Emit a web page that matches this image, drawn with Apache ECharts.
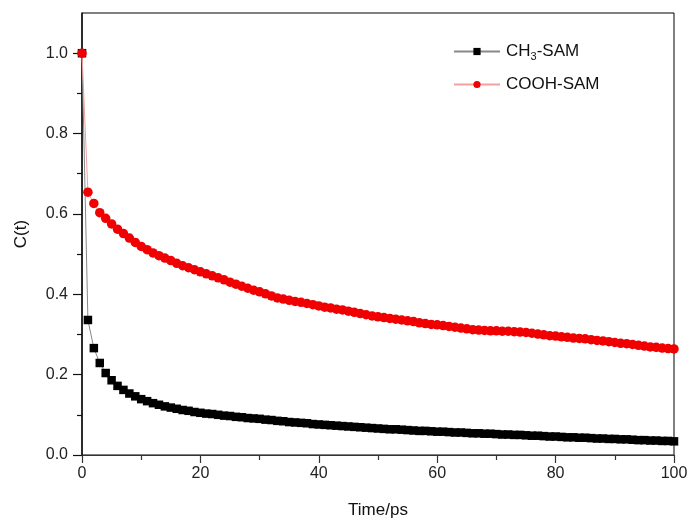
<!DOCTYPE html>
<html>
<head>
<meta charset="utf-8">
<script src="https://cdn.jsdelivr.net/npm/echarts@6/dist/echarts.min.js"></script>
<style>html,body{margin:0;padding:0;background:#fff}#c{width:687px;height:520px}</style>
</head>
<body>
<div id="c"></div>
<script>
var seriesNames = ['CH3-SAM', 'COOH-SAM'];
var xTicks = [0, 20, 40, 60, 80, 100];
var yTicks = [0.0, 0.2, 0.4, 0.6, 0.8, 1.0];
var yMinorTicks = [0.1, 0.3, 0.5, 0.7, 0.9];
var ch3 = [1.000,0.336,0.266,0.229,0.204,0.186,0.172,0.162,0.153,0.146,
0.139,0.134,0.129,0.125,0.121,0.118,0.115,0.112,0.110,0.107,
0.105,0.103,0.102,0.100,0.098,0.097,0.095,0.094,0.092,0.091,
0.090,0.088,0.087,0.085,0.084,0.082,0.081,0.080,0.079,0.077,
0.076,0.075,0.074,0.073,0.072,0.071,0.070,0.069,0.068,0.067,
0.066,0.065,0.064,0.064,0.063,0.062,0.061,0.060,0.060,0.059,
0.058,0.058,0.057,0.056,0.056,0.055,0.054,0.054,0.053,0.053,
0.052,0.051,0.051,0.050,0.050,0.049,0.048,0.048,0.047,0.046,
0.046,0.045,0.044,0.044,0.043,0.043,0.042,0.041,0.041,0.040,
0.040,0.039,0.039,0.038,0.037,0.037,0.036,0.036,0.035,0.035,0.034];
var cooh = [1.000,0.654,0.626,0.603,0.589,0.575,0.562,0.551,0.540,0.529,
0.519,0.511,0.503,0.496,0.490,0.484,0.477,0.471,0.466,0.461,
0.456,0.451,0.446,0.441,0.436,0.430,0.425,0.420,0.415,0.410,
0.406,0.401,0.396,0.391,0.388,0.385,0.382,0.380,0.377,0.374,
0.371,0.368,0.366,0.363,0.361,0.358,0.355,0.352,0.349,0.346,
0.344,0.342,0.340,0.338,0.336,0.334,0.332,0.329,0.327,0.325,
0.324,0.322,0.320,0.318,0.316,0.314,0.312,0.311,0.310,0.309,
0.309,0.308,0.308,0.307,0.306,0.305,0.303,0.301,0.299,0.297,
0.296,0.294,0.293,0.291,0.290,0.289,0.287,0.285,0.284,0.282,
0.280,0.278,0.277,0.275,0.273,0.271,0.269,0.268,0.266,0.265,0.264];

function pairs(arr){ return arr.map(function(v,i){ return [i, v]; }); }

var chart = echarts.init(document.getElementById('c'), null, {renderer:'canvas'});
var font = 'Liberation Sans, Arial, sans-serif';
chart.setOption({
  animation: false,
  backgroundColor: '#fff',
  grid: {left: 82, right: 13, top: 13, bottom: 65, show: true, borderColor: '#000', borderWidth: 1,
    containLabel: false, outerBoundsMode: 'none'},
  legend: {
    orient: 'vertical', left: 448, top: 38, itemWidth: 46, itemHeight: 9, itemGap: 14,
    data: seriesNames,
    textStyle: {fontFamily: font, fontSize: 17, color: '#111', padding: [0,0,0,1],
      rich: {sub: {fontFamily: font, fontSize: 11, color: '#111', padding: [10,0,0,0]}}},
    formatter: function(n){ return n === 'CH3-SAM' ? 'CH{sub|3}-SAM' : n; }
  },
  xAxis: {
    type: 'value', min: 0, max: 100, interval: 20,
    name: 'Time/ps', nameLocation: 'middle', nameGap: 47,
    nameTextStyle: {fontFamily: font, fontSize: 17, color: '#111'},
    axisLine: {lineStyle: {color: '#333', width: 1.2}},
    axisTick: {show: true, inside: false, length: 8, lineStyle: {color: '#333', width: 1.2}},
    minorTick: {show: true, splitNumber: 2, length: 5, lineStyle: {color: '#333', width: 1.2}},
    axisLabel: {fontFamily: font, fontSize: 16, color: '#222', margin: 11,
      formatter: function(v){ return xTicks.indexOf(v) >= 0 ? String(v) : ''; }},
    splitLine: {show: false}
  },
  yAxis: [{
    type: 'value', min: 0, max: 1.1, interval: 0.2,
    name: 'C(t)', nameLocation: 'middle', nameGap: 52, nameRotate: 90,
    nameTextStyle: {fontFamily: font, fontSize: 17, color: '#111'},
    axisLine: {lineStyle: {color: '#111', width: 1.5}},
    axisTick: {show: true, inside: false, length: 9, customValues: yTicks, lineStyle: {color: '#111', width: 1.2}},
    minorTick: {show: false},
    axisLabel: {fontFamily: font, fontSize: 16, color: '#222', margin: 14, customValues: yTicks,
      formatter: function(v){ return v.toFixed(1); }},
    splitLine: {show: false}
  }, {
    type: 'value', min: 0, max: 1.1, interval: 0.2, position: 'left',
    axisLine: {show: false},
    axisTick: {show: true, inside: false, length: 5, customValues: yMinorTicks, lineStyle: {color: '#111', width: 1.2}},
    axisLabel: {show: false},
    splitLine: {show: false}
  }],
  series: [
    {name: seriesNames[0], type: 'line', data: pairs(ch3), symbol: 'rect', symbolSize: 8.5,
      itemStyle: {color: '#000'}, lineStyle: {color: '#888', width: 1}, z: 2},
    {name: seriesNames[1], type: 'line', data: pairs(cooh), symbol: 'circle', symbolSize: 9.5,
      itemStyle: {color: '#f00000'}, lineStyle: {color: '#f4a0a0', width: 1}, z: 3}
  ]
});
</script>
</body>
</html>
